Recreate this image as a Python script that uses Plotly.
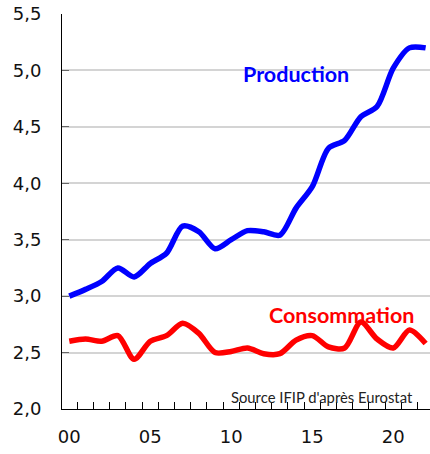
import plotly.graph_objects as go

years = list(range(2000, 2023))
production = [3.00, 3.06, 3.13, 3.25, 3.17, 3.29, 3.38, 3.62, 3.57, 3.42, 3.50, 3.58,
              3.57, 3.54, 3.78, 3.97, 4.31, 4.38, 4.59, 4.68, 5.02, 5.20, 5.20]
consommation = [2.60, 2.62, 2.60, 2.65, 2.44, 2.60, 2.65, 2.76, 2.67, 2.50, 2.51, 2.54,
                2.49, 2.49, 2.61, 2.65, 2.55, 2.54, 2.77, 2.62, 2.54, 2.70, 2.58]
xtick_vals = [2000, 2005, 2010, 2015, 2020]
xtick_text = ["00", "05", "10", "15", "20"]
ytick_vals = [2.0, 2.5, 3.0, 3.5, 4.0, 4.5, 5.0, 5.5]
ytick_text = ["2,0", "2,5", "3,0", "3,5", "4,0", "4,5", "5,0", "5,5"]
minor_ticks = [y + 0.5 for y in years[:-1]]

fig = go.Figure()
fig.add_trace(go.Scatter(x=years, y=consommation, mode="lines",
                         line=dict(color="#ff0000", width=5.5, shape="spline", smoothing=0.8),
                         hoverinfo="skip", cliponaxis=False))
fig.add_trace(go.Scatter(x=years, y=production, mode="lines",
                         line=dict(color="#0000ff", width=5.5, shape="spline", smoothing=0.8),
                         hoverinfo="skip", cliponaxis=False))

fig.update_layout(
    width=430, height=454,
    margin=dict(l=62, r=0, t=14, b=45, autoexpand=False),
    paper_bgcolor="white", plot_bgcolor="white",
    showlegend=False,
    font=dict(family="DejaVu Sans", size=18, color="#111111"),
    xaxis=dict(range=[1999.55, 2022.27], tickmode="array", tickvals=xtick_vals,
               ticktext=xtick_text, ticks="", showgrid=False, zeroline=False,
               showline=True, linecolor="black", linewidth=1, automargin=False,
               ticklabelstandoff=11,
               minor=dict(tickmode="array", tickvals=minor_ticks, ticks="inside",
                          ticklen=7, tickcolor="black", tickwidth=1, showgrid=False)),
    yaxis=dict(range=[2.0, 5.5], tickmode="array", tickvals=ytick_vals,
               ticktext=ytick_text, ticks="inside", ticklen=7, tickcolor="#666666",
               showgrid=True, gridcolor="#d4d4d4", gridwidth=1.5, zeroline=False,
               showline=True, linecolor="black", linewidth=1, automargin=False,
               ticklabelstandoff=16),
    annotations=[
        dict(x=2014.0, y=4.97, xref="x", yref="y", text="<b>Production</b>", showarrow=False,
             font=dict(family="Lato", size=21.5, color="#0000ff")),
        dict(x=2016.8, y=2.83, xref="x", yref="y", text="<b>Consommation</b>", showarrow=False,
             font=dict(family="Lato", size=21.5, color="#ff0000")),
        dict(x=2015.6, y=2.11, xref="x", yref="y", text="Source IFIP d'après Eurostat",
             showarrow=False, font=dict(family="Lato", size=14.8, color="#222222")),
    ],
)

fig.write_html("out.html", config={"displayModeBar": False},
               post_script="document.body.style.margin='0px';")
